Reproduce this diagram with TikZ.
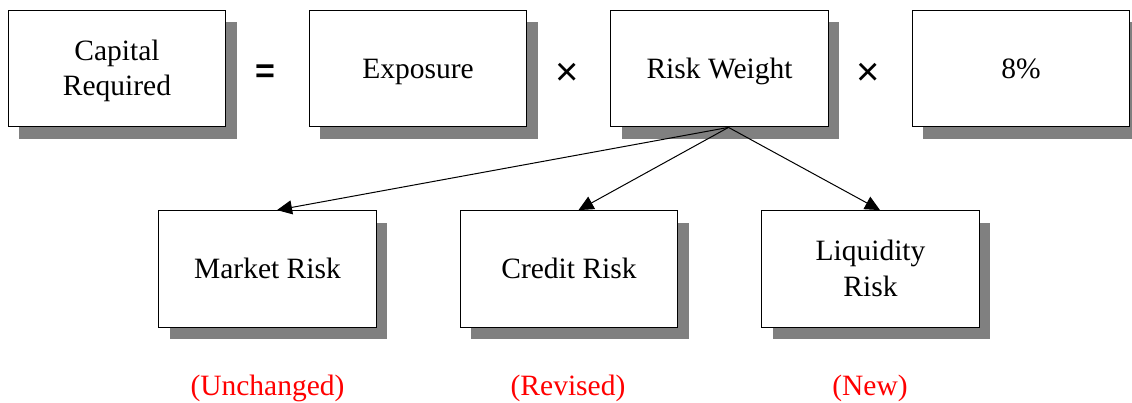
\documentclass[tikz,border=0pt]{standalone}
\usepackage{fontspec}
\setmainfont{Liberation Serif}
\newfontfamily\opfont{Liberation Sans}
\usetikzlibrary{shadows,arrows.meta,calc}
\definecolor{shadowgray}{RGB}{128,128,128}
\begin{document}
\begin{tikzpicture}[x=1pt,y=-1pt,
  box/.style={draw=black, line width=1.2pt, fill=white,
    minimum width=217.5pt, minimum height=116.6pt, inner sep=0pt,
    align=center, font=\fontsize{29.5}{35.5}\selectfont,
    drop shadow={shadow xshift=11pt, shadow yshift=-12pt, fill=shadowgray, opacity=1}},
  oneline/.style={text height=21pt, text depth=1.6pt},
  twoline/.style={text height=56.5pt, text depth=1.6pt},
  op/.style={font=\opfont\bfseries\fontsize{34}{40}\selectfont, inner sep=0pt},
  times/.style={font=\opfont\fontsize{40}{46}\selectfont, inner sep=0pt},
  note/.style={text=red, font=\fontsize{29.5}{35.5}\selectfont, anchor=base, inner sep=0pt},
  link/.style={line width=1pt, -{Triangle[length=15pt,width=14pt]}}]
\useasboundingbox (0,0) rectangle (1132,402);
\node[box,twoline] (cap) at (117,68.5) {Capital\\Required};
\node[box,oneline] (exp) at (418,68.5) {Exposure};
\node[box,oneline] (rw) at (719.5,68.5) {Risk Weight};
\node[box,oneline] (pct) at (1021,68.5) {8\%};
\node[box,oneline] (mkt) at (267.5,269) {Market Risk};
\node[box,oneline] (crd) at (569,269) {Credit Risk};
\node[box,twoline] (liq) at (870.5,269) {Liquidity\\Risk};
\node[op] (eq) at (265,73.5) {=};
\node[times] (x1) at (567,74) {×};
\node[times] (x2) at (868,74) {×};
\node[note] (n1) at (267.5,395) {(Unchanged)};
\node[note] (n2) at (568,395) {(Revised)};
\node[note] (n3) at (870,395) {(New)};
\draw[link] ($(rw.south)+(9,0)$) -- ($(mkt.north)+(9.5,0)$);
\draw[link] ($(rw.south)+(9,0)$) -- ($(crd.north)+(9.5,0)$);
\draw[link] ($(rw.south)+(9,0)$) -- ($(liq.north)+(9.5,0)$);
\end{tikzpicture}
\end{document}
